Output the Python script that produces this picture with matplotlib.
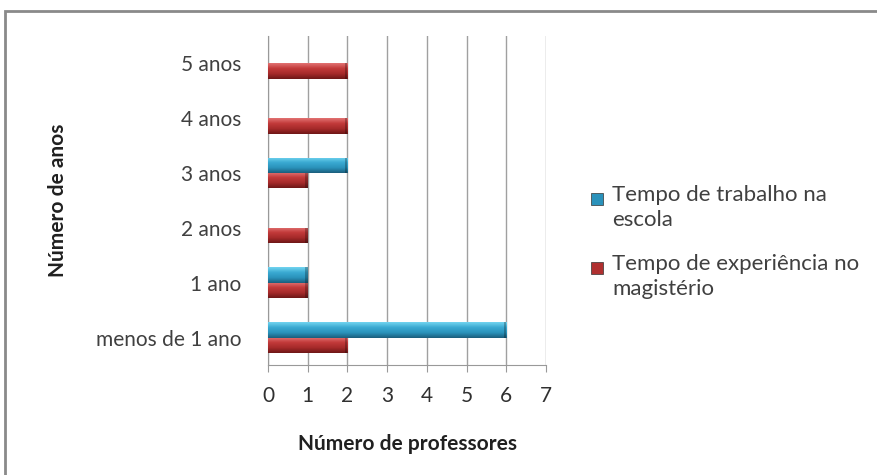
import matplotlib
matplotlib.use("Agg")
import matplotlib.pyplot as plt
import numpy as np
from matplotlib.patches import Rectangle
from matplotlib.colors import LinearSegmentedColormap

plt.rcParams['font.family'] = ['Lato', 'DejaVu Sans']

# Dados do gráfico
categorias = ['menos de 1 ano', '1 ano', '2 anos', '3 anos', '4 anos', '5 anos']
tempo_trabalho = [6, 1, 0, 2, 0, 0]
tempo_experiencia = [2, 1, 1, 1, 2, 2]
nome_trabalho = 'Tempo de trabalho na\nescola'
nome_experiencia = 'Tempo de experiência no\nmagistério'

# cores (claro em cima, escuro em baixo, como o efeito 3D do Excel)
cmap_azul = LinearSegmentedColormap.from_list('azul', ['#1b5e7c', '#2a92bb', '#3aaad2', '#72d4f0'])
cmap_verm = LinearSegmentedColormap.from_list('verm', ['#6e1717', '#a62a2a', '#c23a3a', '#e27272'])

fig = plt.figure(figsize=(8.77, 4.75), dpi=100)
ax = fig.add_axes([0.3056, 0.2316, 0.317, 0.6926])

y = np.arange(len(categorias))
h = 0.28
barras_t = ax.barh(y + h / 2, tempo_trabalho, height=h, color='#2a92bb', edgecolor='none')
barras_e = ax.barh(y - h / 2, tempo_experiencia, height=h, color='#b03030', edgecolor='none')

grad = np.linspace(0, 1, 64).reshape(-1, 1)
for barras, cmap in ((barras_t, cmap_azul), (barras_e, cmap_verm)):
    for p in barras:
        w = p.get_width()
        if w <= 0:
            continue
        x0, y0, hh = p.get_x(), p.get_y(), p.get_height()
        im = ax.imshow(grad, extent=[x0, x0 + w, y0, y0 + hh], origin='lower',
                       aspect='auto', cmap=cmap, zorder=3)
        im.set_clip_path(p)
        # borda escura na ponta da barra
        ax.add_patch(Rectangle((x0 + w - 0.06, y0), 0.06, hh, color='#00000040',
                               lw=0, zorder=4))

ax.set_xlim(0, 7)
ax.set_ylim(-0.5, len(categorias) - 0.5)
ax.set_aspect('auto')
ax.set_xticks(range(8))
ax.set_yticks(y)
ax.set_yticklabels(categorias, fontsize=15, color='#404040')
ax.tick_params(axis='x', labelsize=15, labelcolor='#303030', length=5, color='#999999', pad=10)
ax.tick_params(axis='y', length=0, pad=19)
ax.grid(axis='x', color='#a0a0a0', lw=1)
ax.set_axisbelow(True)
for s in ('top', 'right'):
    ax.spines[s].set_visible(False)
ax.spines['left'].set_color('#999999')
ax.spines['bottom'].set_color('#999999')

ax.set_xlabel('Número de professores', fontsize=15, fontweight='bold', color='#202020', labelpad=20)
ax.set_ylabel('Número de anos', fontsize=15, fontweight='bold', color='#202020', labelpad=0)
ax.yaxis.set_label_coords(-0.72, 0.5)

# legenda
for ty, nome, cor in ((193, nome_trabalho, '#2a92bb'), (262, nome_experiencia, '#b03030')):
    fig.patches.append(Rectangle((591 / 877, 1 - (ty + 12) / 475), 12 / 877, 12 / 475,
                                 transform=fig.transFigure, color=cor, ec='#333333', lw=0.5))
    fig.text(612 / 877, 1 - (ty - 8) / 475, nome, fontsize=16, color='#404040',
             va='top', ha='left', linespacing=1.3)

# moldura
fig.patches.append(Rectangle((5 / 877, -0.05), 1.0, 1 - 11 / 475 + 0.05, transform=fig.transFigure,
                             fill=False, ec='#8a8a8a', lw=2))

fig.savefig('out.png', dpi=100)
